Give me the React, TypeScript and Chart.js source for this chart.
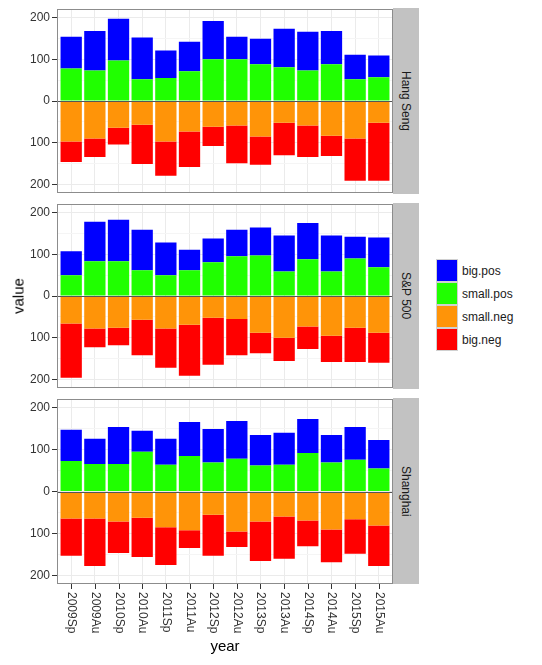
import React, { useEffect, useRef } from "react";
import { Chart, registerables } from "chart.js";

Chart.register(...registerables);

// ---------- data ----------
const years = [
  "2009Sp", "2009Au", "2010Sp", "2010Au", "2011Sp", "2011Au", "2012Sp",
  "2012Au", "2013Sp", "2013Au", "2014Sp", "2014Au", "2015Sp", "2015Au",
];
const markets = ["Hang Seng", "S&P 500", "Shanghai"];

const hangSengSmallPos = [78, 73, 97, 52, 55, 71, 100, 100, 88, 81, 73, 88, 52, 57];
const hangSengBigPos = [76, 95, 100, 100, 66, 71, 92, 54, 61, 92, 93, 80, 59, 52];
const hangSengSmallNeg = [97, 90, 64, 57, 97, 73, 62, 59, 85, 52, 59, 83, 90, 52];
const hangSengBigNeg = [49, 44, 40, 94, 82, 85, 46, 90, 68, 78, 75, 49, 101, 139];

const spSmallPos = [50, 83, 83, 62, 50, 62, 81, 95, 97, 59, 88, 59, 90, 69];
const spBigPos = [57, 95, 100, 97, 78, 49, 57, 64, 67, 86, 87, 86, 52, 71];
const spSmallNeg = [66, 78, 76, 57, 78, 69, 52, 55, 88, 100, 73, 95, 76, 88];
const spBigNeg = [130, 45, 42, 85, 94, 122, 113, 87, 49, 56, 54, 63, 82, 72];

const shanghaiSmallPos = [73, 66, 66, 95, 64, 85, 69, 78, 62, 64, 92, 69, 76, 55];
const shanghaiBigPos = [74, 60, 88, 50, 62, 81, 80, 90, 73, 76, 81, 66, 78, 68];
const shanghaiSmallNeg = [64, 64, 71, 62, 85, 92, 55, 95, 71, 59, 69, 90, 66, 81];
const shanghaiBigNeg = [89, 113, 75, 94, 90, 42, 98, 37, 94, 101, 61, 78, 82, 96];

const yTickValues = [-200, -150, -100, -50, 0, 50, 100, 150, 200];

const seriesNames = ["big.pos", "small.pos", "small.neg", "big.neg"];
const seriesColors = ["#0000ff", "#20ff00", "#ff9408", "#ff0000"];

const panelData = [
  { smallPos: hangSengSmallPos, bigPos: hangSengBigPos, smallNeg: hangSengSmallNeg, bigNeg: hangSengBigNeg },
  { smallPos: spSmallPos, bigPos: spBigPos, smallNeg: spSmallNeg, bigNeg: spBigNeg },
  { smallPos: shanghaiSmallPos, bigPos: shanghaiBigPos, smallNeg: shanghaiSmallNeg, bigNeg: shanghaiBigNeg },
];

// ---------- layout ----------
const FONT = "'Liberation Sans', Arial, Helvetica, sans-serif";
const PLOT_LEFT = 57;
const PLOT_RIGHT = 393;
const PANEL_H = 186;
const PANEL_TOPS = [8, 203, 398];
const PAD_TOP = 8;
const PAD_BOTTOM = 8;
const LAST_PAD_BOTTOM = 665 - (PANEL_TOPS[2] + PANEL_H);

function Panel({ index }: { index: number }) {
  const ref = useRef<HTMLCanvasElement | null>(null);
  const isLast = index === markets.length - 1;
  const padBottom = isLast ? LAST_PAD_BOTTOM : PAD_BOTTOM;
  const height = PANEL_H + PAD_TOP + padBottom;

  useEffect(() => {
    if (!ref.current) return;
    const d = panelData[index];
    const toPts = (arr: number[], sign: number) => arr.map((v, i) => ({ x: i, y: sign * v }));

    const panelPlugin = {
      id: "panelDeco" + index,
      afterDatasetsDraw(chart: any) {
        const { ctx, chartArea, scales } = chart;
        ctx.save();
        const y0 = Math.round(scales.y.getPixelForValue(0)) + 0.5;
        ctx.strokeStyle = "#555555";
        ctx.lineWidth = 1;
        ctx.beginPath();
        ctx.moveTo(chartArea.left, y0);
        ctx.lineTo(chartArea.right, y0);
        ctx.stroke();
        ctx.strokeStyle = "#8c8c8c";
        ctx.strokeRect(
          Math.round(chartArea.left) + 0.5,
          Math.round(chartArea.top) + 0.5,
          Math.round(chartArea.right - chartArea.left) - 1,
          Math.round(chartArea.bottom - chartArea.top) - 1
        );
        ctx.restore();
      },
      afterDraw(chart: any) {
        if (!isLast) return;
        const { ctx, chartArea, scales } = chart;
        ctx.save();
        ctx.strokeStyle = "#333333";
        ctx.lineWidth = 1;
        ctx.fillStyle = "#333333";
        ctx.font = "12px " + FONT;
        ctx.textAlign = "left";
        ctx.textBaseline = "middle";
        years.forEach((label, i) => {
          const x = Math.round(scales.x.getPixelForValue(i)) + 0.5;
          ctx.beginPath();
          ctx.moveTo(x, chartArea.bottom);
          ctx.lineTo(x, chartArea.bottom + 5);
          ctx.stroke();
          ctx.save();
          ctx.translate(x, chartArea.bottom + 8);
          ctx.rotate(Math.PI / 2);
          ctx.fillText(label, 0, 0);
          ctx.restore();
        });
        ctx.restore();
      },
    };

    const chart = new Chart(ref.current, {
      type: "bar",
      data: {
        datasets: [
          { label: seriesNames[1], data: toPts(d.smallPos, 1), backgroundColor: seriesColors[1] },
          { label: seriesNames[0], data: toPts(d.bigPos, 1), backgroundColor: seriesColors[0] },
          { label: seriesNames[2], data: toPts(d.smallNeg, -1), backgroundColor: seriesColors[2] },
          { label: seriesNames[3], data: toPts(d.bigNeg, -1), backgroundColor: seriesColors[3] },
        ],
      } as any,
      options: {
        responsive: false,
        animation: false,
        events: [],
        layout: { padding: { left: 0, right: 0, top: PAD_TOP, bottom: padBottom } },
        datasets: { bar: { barPercentage: 0.9, categoryPercentage: 1, borderWidth: 0 } },
        plugins: { legend: { display: false }, tooltip: { enabled: false } },
        scales: {
          x: {
            type: "linear",
            stacked: true,
            offset: false,
            min: -0.6,
            max: 13.6,
            afterBuildTicks: (s: any) => {
              s.ticks = years.map((_, i) => ({ value: i }));
            },
            ticks: { display: false },
            grid: { color: "#ebebeb", lineWidth: 1, drawTicks: false, offset: false },
            border: { display: false },
          },
          y: {
            type: "linear",
            stacked: true,
            min: -220,
            max: 220,
            afterBuildTicks: (s: any) => {
              s.ticks = yTickValues.map((v) => ({ value: v }));
            },
            afterFit: (s: any) => {
              s.width = PLOT_LEFT;
            },
            ticks: {
              padding: 2,
              color: "#333333",
              font: { family: FONT, size: 12 },
              callback: (v: any) => (Number(v) % 100 === 0 ? String(Math.abs(Number(v))) : ""),
            },
            grid: {
              color: (c: any) => (c.tick && c.tick.value % 100 === 0 ? "#ebebeb" : "#f5f5f5"),
              lineWidth: 1,
              drawTicks: true,
              tickLength: 5,
              tickColor: (c: any) => (c.tick && c.tick.value % 100 === 0 ? "#333333" : "rgba(0,0,0,0)"),
            },
            border: { display: false },
          },
        },
      } as any,
      plugins: [panelPlugin],
    });
    return () => chart.destroy();
  }, [index]);

  return (
    <>
      <canvas
        ref={ref}
        width={PLOT_RIGHT}
        height={height}
        style={{
          position: "absolute",
          left: 0,
          top: PANEL_TOPS[index] - PAD_TOP,
          width: PLOT_RIGHT,
          height,
        }}
      />
      <div
        style={{
          position: "absolute",
          left: PLOT_RIGHT,
          top: PANEL_TOPS[index],
          width: 26,
          height: PANEL_H,
          background: "#c2c2c2",
          display: "flex",
          alignItems: "center",
          justifyContent: "center",
        }}
      >
        <span
          style={{
            writingMode: "vertical-rl",
            fontFamily: FONT,
            fontSize: 12,
            color: "#1a1a1a",
            lineHeight: "14px",
          }}
        >
          {markets[index]}
        </span>
      </div>
    </>
  );
}

export default function App() {
  return (
    <div
      style={{
        position: "absolute",
        left: 0,
        top: 0,
        width: 542,
        height: 665,
        background: "#ffffff",
        overflow: "hidden",
        fontFamily: FONT,
      }}
    >
      {markets.map((_, i) => (
        <Panel key={i} index={i} />
      ))}
      <div
        style={{
          position: "absolute",
          left: 18,
          top: 296,
          transform: "translate(-50%, -50%) rotate(-90deg)",
          fontSize: 15,
          color: "#000",
          whiteSpace: "nowrap",
          lineHeight: "15px",
        }}
      >
        value
      </div>
      <div
        style={{
          position: "absolute",
          left: (PLOT_LEFT + PLOT_RIGHT) / 2,
          top: 638,
          transform: "translateX(-50%)",
          fontSize: 15,
          color: "#000",
          whiteSpace: "nowrap",
          lineHeight: "15px",
        }}
      >
        year
      </div>
      <div style={{ position: "absolute", left: 436, top: 259 }}>
        {seriesNames.map((name, i) => (
          <div key={name} style={{ display: "flex", alignItems: "center", height: 23 }}>
            <div
              style={{
                width: 20,
                height: 21,
                background: seriesColors[i],
                border: "1px solid #d0d0d0",
              }}
            />
            <span style={{ marginLeft: 4, fontSize: 12, color: "#1a1a1a" }}>{name}</span>
          </div>
        ))}
      </div>
    </div>
  );
}
